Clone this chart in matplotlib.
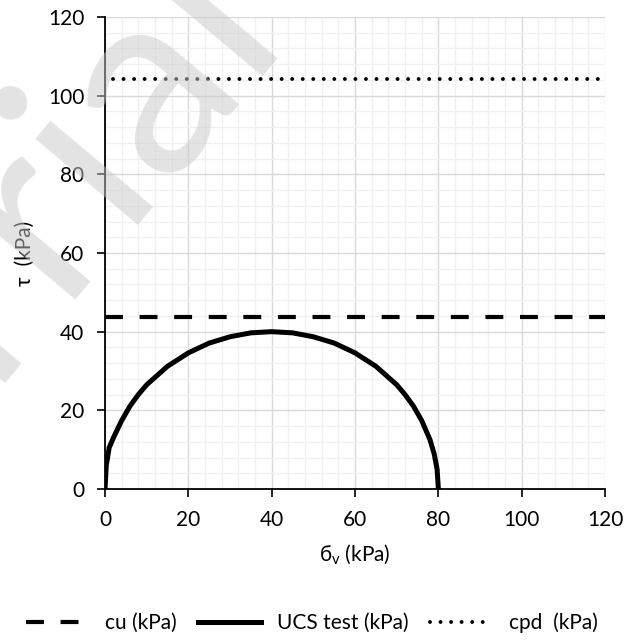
import matplotlib
matplotlib.use('Agg')
from matplotlib import pyplot as plt
from matplotlib import ticker

plt.rcParams['font.family'] = ['Lato', 'DejaVu Sans']
plt.rcParams['mathtext.fontset'] = 'custom'
plt.rcParams['mathtext.rm'] = 'Lato'
plt.rcParams['mathtext.it'] = 'Lato:italic'

# UCS test Mohr circle
ucs_sigma = [0, 0.3, 1, 2, 4, 6, 8, 10, 15, 20, 25, 30, 35, 40,
             45, 50, 55, 60, 65, 70, 72, 74, 76, 78, 79, 79.7, 80]
ucs_tau = [0, 6.0, 10.5, 13.0, 17.4, 21.1, 24.0, 26.5, 31.2, 34.6, 37.1, 38.7, 39.7, 40.0,
           39.7, 38.7, 37.1, 34.6, 31.2, 26.5, 24.0, 21.1, 17.4, 12.5, 8.9, 5.0, 0]

cu_sigma = [0, 120]
cu_tau = [43.8, 43.8]

cpd_sigma = [2, 120]
cpd_tau = [104.3, 104.3]

fig = plt.figure(figsize=(6.24, 6.44), dpi=100)
ax = fig.add_axes([0.1683, 0.2407, 0.8013, 0.7329])

ax.plot(cu_sigma, cu_tau, color='k', lw=3, linestyle=(0, (4.3, 4.0)),
        label='cu (kPa)', zorder=3)
ax.plot(ucs_sigma, ucs_tau, color='k', lw=3.6, label='UCS test (kPa)',
        solid_joinstyle='round', zorder=3)
ax.plot(cpd_sigma, cpd_tau, color='k', lw=2.8, linestyle=(0, (0.01, 2.7)),
        dash_capstyle='round', label='cpd  (kPa)', zorder=3)

ax.set_xlim(0, 120)
ax.set_ylim(0, 120)
ax.xaxis.set_major_locator(ticker.MultipleLocator(20))
ax.yaxis.set_major_locator(ticker.MultipleLocator(20))
ax.xaxis.set_minor_locator(ticker.MultipleLocator(4))
ax.yaxis.set_minor_locator(ticker.MultipleLocator(4))
ax.grid(which='major', color='#d9d9d9', lw=1.0)
ax.grid(which='minor', color='#f0f0f0', lw=1.0)
ax.set_axisbelow(True)
ax.tick_params(which='minor', length=0)
ax.tick_params(which='major', length=6, width=1.2, labelsize=15, pad=9,
               colors='k')
for s in ['top', 'right']:
    ax.spines[s].set_visible(False)
for s in ['left', 'bottom']:
    ax.spines[s].set_linewidth(1.3)

ax.set_xlabel('б$_\\mathrm{v}$ (kPa)', fontsize=15, labelpad=9)
ax.set_ylabel('τ  (kPa)', fontsize=15, labelpad=9)

# faint "Trial" watermark, as in the source image
fig.text(0.11, 0.71, 'Trial', fontsize=190, color='#c8c8c8', alpha=0.5,
         rotation=50, ha='center', va='center', zorder=10)

fig.legend(loc='lower center', bbox_to_anchor=(0.5, -0.012), ncol=3,
           frameon=False, fontsize=15, handlelength=3.0, columnspacing=1.0,
           handletextpad=0.8)

fig.savefig('out.png', dpi=100)
